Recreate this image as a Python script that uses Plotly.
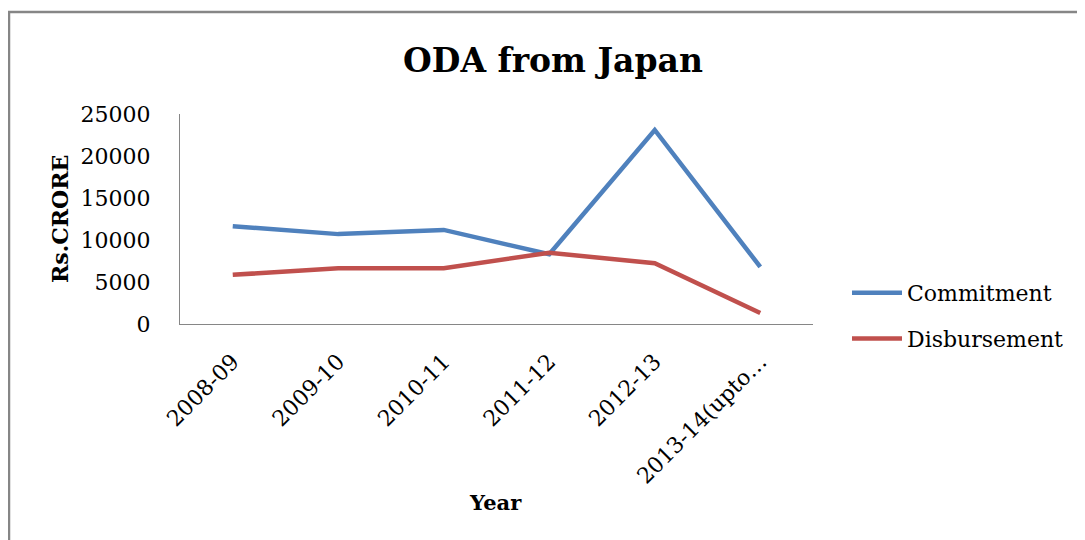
import plotly.graph_objects as go

# dados
anos = ['2008-09', '2009-10', '2010-11', '2011-12', '2012-13', '2013-14(upto…']
commitment = [11650, 10700, 11200, 8300, 23100, 6800]
disbursement = [5850, 6650, 6650, 8480, 7230, 1300]

serie_nomes = ['Commitment', 'Disbursement']
serie_cores = ['#4F81BD', '#C0504D']

fonte = 'DejaVu Serif'
cinza = '#868686'

# a pagina tem margem de 8px no body -> desconta das posicoes da referencia
off = 8
W, H = 1085 - off, 540 - off
L, R, T, B = 180 - off, 813 - off, 114 - off, 324 - off
pw, ph = R - L, B - T

def px_x(x):
    return (x - off - L) / pw

def px_y(y):
    return (B - (y - off)) / ph

fig = go.Figure()

for i, (nome, vals) in enumerate(zip(serie_nomes, [commitment, disbursement])):
    fig.add_trace(go.Scatter(x=anos, y=vals, mode='lines', name=nome,
                             legendgroup=nome,
                             line=dict(color=serie_cores[i], width=4.5)))

fig.update_layout(
    width=W, height=H,
    margin=dict(l=L, r=W - R, t=T, b=H - B),
    paper_bgcolor='white', plot_bgcolor='white',
    font=dict(family=fonte, size=20, color='black'),
    title=dict(text='<b>ODA from Japan</b>', x=(553 - off) / W, xanchor='center',
               y=1 - (60 - off) / H, yanchor='middle',
               font=dict(family=fonte, size=33, color='black')),
    showlegend=True,
    legend=dict(x=px_x(847), y=px_y(272), xanchor='left', yanchor='top',
                font=dict(family=fonte, size=22, color='black'),
                tracegroupgap=14, itemwidth=50, bgcolor='rgba(0,0,0,0)'),
    xaxis=dict(type='category', range=[-0.5, 5.5], showgrid=False, zeroline=False,
               showline=True, linecolor=cinza, linewidth=1, ticks='',
               tickangle=-45, ticklabelstandoff=15,
               tickfont=dict(family=fonte, size=22, color='black')),
    yaxis=dict(range=[0, 25000], dtick=5000, tickformat='d', showgrid=False,
               zeroline=False, showline=True, linecolor=cinza, linewidth=1,
               ticks='', ticklabelstandoff=24,
               tickfont=dict(family=fonte, size=22, color='black')),
)

# titulos dos eixos
fig.add_annotation(text='<b>Rs.CRORE</b>', xref='paper', yref='paper',
                   x=px_x(60), y=px_y(219), textangle=-90,
                   xanchor='center', yanchor='middle',
                   showarrow=False, font=dict(family=fonte, size=22, color='black'))
fig.add_annotation(text='<b>Year</b>', xref='paper', yref='paper',
                   x=px_x(495), y=px_y(502), xanchor='center', yanchor='middle',
                   showarrow=False, font=dict(family=fonte, size=21, color='black'))

# moldura do grafico
fig.add_shape(type='rect', xref='paper', yref='paper',
              x0=px_x(9), x1=px_x(1100), y0=px_y(560), y1=px_y(12),
              line=dict(color=cinza, width=2.5), layer='below')

fig.write_html('out.html')
